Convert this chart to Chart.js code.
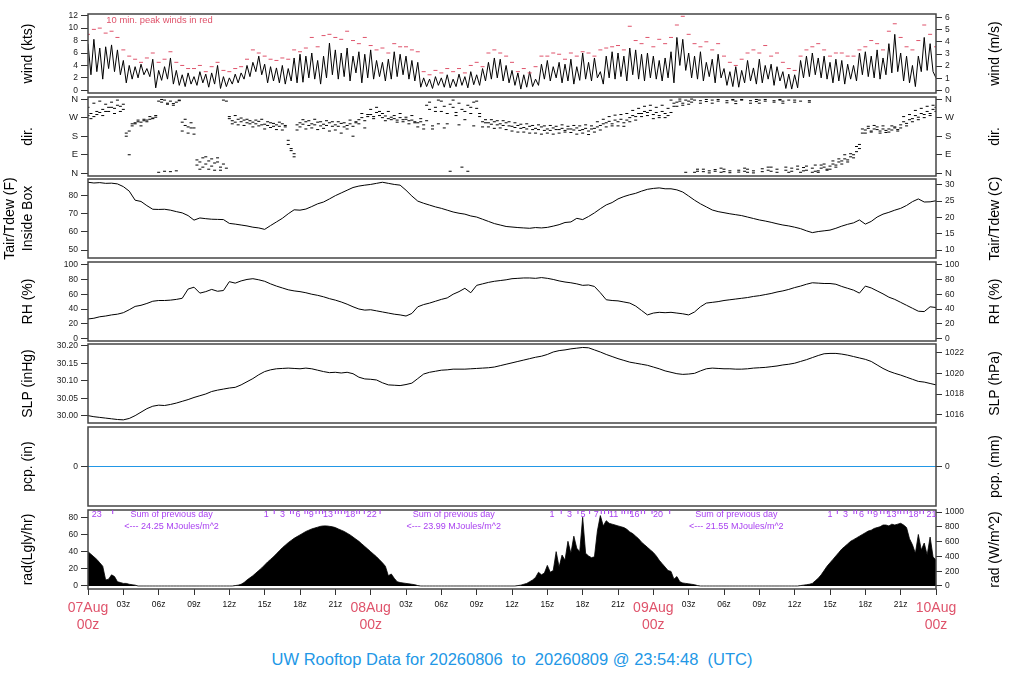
<!DOCTYPE html>
<html>
<head>
<meta charset="utf-8">
<title>UW Rooftop Data</title>
<script src="https://cdn.jsdelivr.net/npm/chart.js@4.4.1/dist/chart.umd.min.js"></script>
<style>
  body { margin: 0; background: #fff; }
  #page { position: relative; width: 1024px; height: 700px; overflow: hidden; font-family: "Liberation Sans", Arial, sans-serif; }
  .panel { position: absolute; left: 0; width: 1024px; }
  #title { position: absolute; left: 0; width: 1024px; top: 650px; text-align: center; font-size: 16.5px; color: #2297E6; white-space: pre; }
</style>
</head>
<body>
<div id="page">
  <div id="title">UW Rooftop Data for 20260806  to  20260809 @ 23:54:48  (UTC)</div>
</div>
<script>
const FONT = '"Liberation Sans", Arial, Helvetica, sans-serif';
const RED = '#DF536B';
const BLUE = '#2297E6';
const PURPLE = '#A83FF0';
Chart.defaults.font.family = FONT;

// time is in hours after 07Aug 00z
const xTickHours = [0, 3, 6, 9, 12, 15, 18, 21, 24, 27, 30, 33, 36, 39, 42, 45, 48, 51, 54, 57, 60, 63, 66, 69, 72];
const xTickLabels = [['07Aug', '00z'], '03z', '06z', '09z', '12z', '15z', '18z', '21z',
                     ['08Aug', '00z'], '03z', '06z', '09z', '12z', '15z', '18z', '21z',
                     ['09Aug', '00z'], '03z', '06z', '09z', '12z', '15z', '18z', '21z',
                     ['10Aug', '00z']];

// wind speed (kts), every 15 min
const windStep = 0.25;
const windKts = [
  7.5, 2.5, 8.2, 3.0,  6.8, 1.8, 7.0, 3.5,  7.3, 3.0, 6.5, 2.5,  4.8, 1.2, 4.0, 1.8,  3.8, 2.0, 4.2, 2.5,
  3.5, 2.2, 5.0, 0.4,  3.2, 1.6, 3.8, 1.8,  5.2, 1.0, 3.2, 0.8,  2.5, 0.6, 2.8, 1.0,  2.2, 0.8, 3.0, 1.2,
  2.6, 0.5, 2.8, 1.0,  4.0, 0.3, 2.2, 0.6,  2.0, 1.0, 2.6, 1.2,  2.8, 1.8, 4.0, 2.2,  4.5, 3.0, 5.5, 2.5,
  4.2, 1.2, 3.8, 1.5,  3.6, 1.2, 4.0, 1.0,  3.5, 1.5, 5.2, 1.2,  5.8, 1.3, 5.5, 2.0,  6.0, 1.8, 4.8, 1.0,
  5.5, 2.0, 7.6, 2.5,  6.5, 1.8, 6.0, 2.2,  6.8, 1.5, 5.5, 2.8,  6.2, 1.2, 5.8, 2.0,  6.5, 1.8, 4.8, 2.2,
  4.5, 1.5, 5.0, 1.8,  6.2, 2.2, 5.8, 2.5,  5.5, 1.8, 4.8, 1.5,  4.5, 0.5, 2.0, 0.6,  1.8, 0.3, 2.2, 0.8,
  2.0, 0.5, 2.5, 0.4,  1.8, 0.6, 2.6, 0.8,  2.2, 0.4, 3.0, 0.9,  2.5, 0.8, 3.5, 1.5,  4.5, 1.8, 5.2, 2.0,
  5.0, 1.5, 4.0, 1.2,  3.2, 0.8, 2.8, 0.2,  2.5, 0.5, 3.0, 0.6,  1.8, 0.8, 4.2, 1.8,  4.8, 1.5, 3.8, 2.0,
  4.5, 1.2, 4.2, 1.5,  5.0, 1.0, 3.8, 1.6,  6.0, 1.8, 4.5, 1.5,  5.2, 2.0, 3.0, 1.0,  5.5, 2.0, 6.2, 1.8,
  6.0, 2.2, 5.5, 1.5,  6.8, 2.5, 6.5, 1.8,  5.8, 1.5, 6.0, 2.0,  5.5, 1.8, 4.8, 1.5,  5.2, 2.0, 6.2, 1.2,
  8.5, 4.0, 8.2, 3.2,  6.0, 2.0, 5.5, 1.8,  6.2, 1.5, 4.5, 2.2,  5.0, 1.2, 5.8, 2.0,  3.5, 0.8, 3.0, 0.6,
  3.8, 0.5, 3.2, 1.2,  4.8, 1.5, 3.6, 1.0,  5.0, 1.2, 4.0, 1.8,  4.2, 0.8, 3.8, 1.5,  3.0, 0.3, 2.6, 0.2,
  2.5, 0.4, 4.8, 2.0,  5.5, 2.2, 6.0, 2.5,  5.2, 2.0, 5.5, 1.8,  4.5, 1.2, 5.0, 1.5,  4.8, 1.0, 4.2, 1.8,
  4.0, 1.5, 6.0, 2.5,  6.2, 2.2, 5.5, 2.0,  6.5, 1.8, 5.2, 2.5,  7.5, 2.8, 9.0, 3.0,  6.0, 1.5, 5.5, 1.2,
  4.0, 0.6, 5.5, 3.0,  8.5, 3.2, 7.5, 3.0,  2.0
];

// 10 min peak winds (kts), every 30 min
const peakStep = 0.5;
const peakKts = [
  9.0, 9.8, 10.0, 9.2, 9.5, 8.5, 6.5, 5.5, 5.0, 4.5,
  5.2, 6.0, 4.5, 5.0, 6.2, 4.5, 4.0, 3.5, 3.5, 4.0,
  3.0, 3.8, 4.5, 3.2, 3.0, 3.5, 3.8, 5.0, 6.5, 6.0,
  5.5, 5.0, 4.8, 5.2, 5.0, 6.5, 6.2, 6.8, 8.5, 7.0,
  8.8, 9.0, 8.5, 8.2, 9.5, 8.0, 7.5, 8.5, 7.2, 6.5,
  6.8, 6.0, 7.5, 7.0, 7.0, 6.5, 6.2, 3.0, 2.5, 3.2,
  2.8, 3.5, 3.0, 3.5, 2.8, 4.0, 4.5, 3.8, 6.0, 6.5,
  6.0, 5.5, 4.5, 3.0, 3.5, 2.8, 3.8, 5.5, 5.5, 6.0,
  5.8, 5.0, 6.0, 5.5, 6.2, 6.0, 5.5, 6.5, 6.8, 7.0,
  7.2, 6.5, 10.3, 8.0, 7.5, 8.5, 7.0, 8.2, 7.5, 8.5,
  10.5, 11.9, 9.0, 7.5, 7.0, 7.8, 6.5, 7.5, 5.5, 4.5,
  4.0, 5.0, 6.0, 6.5, 6.0, 7.2, 5.5, 6.0, 4.5, 3.5,
  3.2, 5.5, 6.5, 7.0, 7.5, 6.5, 5.5, 6.0, 6.0, 5.5,
  5.5, 6.5, 7.0, 8.0, 7.5, 6.5, 9.5, 10.7, 8.5, 7.0,
  6.5, 8.0, 10.5, 9.0, 7.0
];

// wind direction (deg), two samples every 15 min
const dirStep = 0.25;
const dirA = [
  280, 290, 275, 300,  295, 310, 300, 320,  320, 315, 330, 325,  310, 195, 205, 240,  245, 250, 248, 255,
  258, 262, 268, 272,  350, 345, 355, 340,  350, 338, 345, 352,  248, 232, 225, 245,  220, 40, 55, 30,
  45, 60, 35, 50,  55, 30, 45, 350,  265, 255, 248, 262,  250, 258, 245, 255,  248, 240, 252, 235,
  238, 232, 245, 228,  235, 228, 240, 225,  140, 110, 95, 235,  245, 238, 250, 232,  240, 235, 248, 230,
  238, 232, 245, 228,  235, 228, 242, 225,  232, 240, 228, 245,  260, 270, 255, 275,  285, 275, 295, 280,
  270, 278, 265, 272,  265, 258, 270, 260,  262, 255, 258, 250,  245, 250, 235, 255,  310, 230, 320, 240,
  300, 325, 240, 335,  320, 295, 340, 310,  300, 330, 290, 345,  315, 290, 250, 245,  245, 238, 250, 235,
  240, 232, 245, 230,  228, 222, 232, 218,  222, 215, 228, 212,  218, 212, 225, 208,  215, 208, 220, 212,
  212, 218, 208, 215,  215, 210, 220, 208,  212, 218, 205, 215,  218, 225, 232, 240,  245, 252, 240, 258,
  250, 262, 245, 258,  270, 280, 275, 290,  290, 300, 295, 305,  285, 295, 280, 300,  290, 280, 295, 340,
  345, 350, 340, 355,  350, 345, 355, 10,  352, 8, 348, 12,  355, 10, 350, 5,  8, 352, 12, 355,
  350, 6, 355, 10,  5, 352, 12, 348,  355, 8, 350, 15,  10, 352, 20, 355,  350, 15, 355, 10,
  355, 20, 350, 12,  15, 352, 25, 10,  12, 25, 30, 20,  35, 45, 40, 55,  60, 70, 65, 80,
  90, 105, 120, 215,  210, 218, 205, 215,  212, 205, 215, 208,  215, 210, 220, 212,  235, 250, 242, 260,
  265, 280, 272, 290,  285, 300, 290, 310,  300
];
const dirB = [
  320, 265, 340, 285,  350, 280, 335, 300,  345, 290, 355, 300,  335, 180, 90, 230,  240, 258, 230, 262,
  250, 275, 265, 280,  5, 358, 10, 335,  8, 330, 12, 355,  205, 262, 195, 220,  190, 65, 20, 75,
  80, 20, 70, 15,  75, 15, 355, 25,  275, 240, 280, 235,  268, 232, 262, 240,  225, 258, 230, 262,
  215, 250, 222, 242,  212, 248, 210, 232,  160, 120, 80, 210,  225, 260, 215, 255,  220, 262, 212, 250,
  218, 255, 205, 250,  210, 250, 195, 245,  215, 258, 180, 250,  240, 290, 220, 285,  310, 265, 320, 300,
  290, 255, 300, 260,  280, 248, 290, 250,  272, 240, 280, 245,  225, 265, 215, 330,  345, 215, 300, 355,
  350, 220, 290, 10,  355, 280, 235, 30,  260, 10, 320, 230,  350, 275, 225, 260,  225, 260, 218, 255,
  220, 255, 212, 250,  205, 245, 200, 238,  200, 240, 195, 232,  195, 235, 190, 230,  195, 232, 190, 228,
  195, 235, 200, 228,  198, 232, 190, 230,  195, 235, 188, 230,  200, 250, 210, 262,  225, 275, 230, 282,
  230, 285, 228, 290,  250, 305, 258, 315,  275, 325, 280, 330,  265, 320, 270, 330,  270, 315, 355, 325,
  325, 360, 330, 5,  335, 360, 5, 20,  340, 20, 358, 2,  340, 18, 358, 25,  20, 342, 3, 358,
  338, 15, 358, 25,  20, 340, 2, 358,  340, 22, 358, 30,  30, 345, 5, 358,  340, 30, 5, 25,
  345, 35, 5, 28,  35, 345, 5, 40,  5, 40, 45, 15,  20, 60, 30, 70,  45, 90, 55, 95,
  75, 130, 140, 195,  195, 228, 200, 232,  225, 195, 230, 198,  200, 230, 225, 205,  220, 275, 230, 285,
  250, 305, 260, 315,  270, 325, 280, 330,  320
];
const dirTicks = [0, 90, 180, 270, 360];
const dirTickLabels = ['N', 'E', 'S', 'W', 'N'];

// air temperature inside box (F), every 30 min
const tempStep = 0.5;
const tempF = [
  87.4, 87.0, 87.2, 86.8, 86.9, 86.5, 85.0, 82.5, 77.5, 76.8,
  74.5, 72.5, 72.4, 72.5, 72.0, 71.2, 70.5, 69.0, 66.5, 67.7,
  67.3, 67.0, 66.9, 66.8, 64.7, 64.3, 63.8, 63.3, 62.6, 62.2,
  61.4, 63.5, 65.5, 67.5, 70.0, 72.2, 72.0, 72.6, 74.0, 75.5,
  76.5, 78.2, 80.0, 81.5, 83.0, 84.5, 85.3, 85.8, 86.2, 86.8,
  87.4, 86.8, 86.2, 85.8, 83.0, 79.8, 77.0, 75.8, 74.8, 73.8,
  73.0, 72.0, 71.0, 70.3, 69.8, 68.8, 68.2, 67.0, 65.8, 64.6,
  63.8, 63.0, 62.7, 62.4, 62.2, 62.0, 62.4, 62.2, 62.5, 63.2,
  64.0, 65.2, 65.5, 67.5, 66.8, 68.5, 70.5, 72.8, 74.9, 76.2,
  78.2, 79.5, 80.5, 81.3, 82.5, 83.5, 84.0, 84.3, 83.8, 83.8,
  83.2, 82.0, 79.8, 77.5, 75.5, 73.8, 72.1, 71.2, 70.6, 70.0,
  69.5, 69.0, 68.2, 67.4, 66.6, 66.0, 65.3, 64.5, 63.8, 63.3,
  62.6, 61.8, 60.6, 59.6, 60.2, 60.6, 61.0, 62.0, 63.2, 64.2,
  65.0, 66.6, 64.3, 65.8, 68.2, 69.8, 70.8, 72.0, 73.0, 74.6,
  76.7, 78.2, 76.5, 76.6, 77.2
];

// relative humidity (%), every 30 min
const rhStep = 0.5;
const rhPct = [
  26.5, 27.5, 29.5, 30.5, 32.0, 33.0, 35.0, 39.0, 43.5, 45.0,
  47.5, 50.5, 51.5, 51.5, 52.0, 53.0, 54.5, 67.0, 69.5, 61.5,
  63.5, 66.5, 64.0, 65.0, 77.0, 75.0, 78.0, 80.0, 81.0, 79.5,
  77.5, 74.0, 71.0, 68.5, 66.0, 64.5, 63.5, 62.0, 60.0, 58.5,
  56.5, 54.0, 52.0, 49.5, 46.5, 43.0, 40.0, 38.5, 39.0, 37.5,
  36.0, 34.5, 33.0, 32.0, 30.5, 34.0, 43.0, 46.0, 48.0, 50.5,
  53.0, 55.0, 60.0, 63.5, 68.0, 62.0, 72.0, 74.0, 76.0, 77.5,
  78.5, 79.5, 81.0, 81.5, 82.0, 82.0, 81.5, 82.5, 81.5, 80.0,
  78.0, 76.5, 75.5, 74.0, 72.0, 72.5, 70.5, 62.0, 52.5, 51.5,
  51.0, 49.5, 48.0, 44.0, 38.0, 32.0, 34.5, 35.5, 35.0, 35.5,
  34.5, 33.5, 32.0, 36.0, 43.0, 48.0, 49.0, 50.0, 51.5, 52.5,
  53.5, 54.5, 55.5, 57.0, 58.0, 59.5, 61.0, 63.0, 64.5, 66.5,
  69.0, 71.0, 73.5, 75.5, 75.0, 74.5, 74.5, 73.5, 70.5, 68.0,
  65.5, 61.5, 71.0, 68.5, 64.5, 60.5, 56.0, 53.0, 49.0, 45.0,
  41.0, 37.0, 36.5, 43.0, 42.0
];

// sea level pressure (inHg), every 30 min
const slpStep = 0.5;
const slpInHg = [
  30.000, 29.997, 29.995, 29.993, 29.991, 29.989, 29.988, 29.992, 30.000, 30.010,
  30.020, 30.027, 30.030, 30.029, 30.032, 30.036, 30.041, 30.046, 30.052, 30.057,
  30.062, 30.069, 30.073, 30.076, 30.079, 30.081, 30.088, 30.097, 30.106, 30.117,
  30.126, 30.131, 30.134, 30.135, 30.136, 30.135, 30.134, 30.136, 30.134, 30.130,
  30.126, 30.123, 30.124, 30.122, 30.124, 30.120, 30.110, 30.105, 30.104, 30.102,
  30.094, 30.088, 30.087, 30.086, 30.089, 30.093, 30.106, 30.119, 30.124, 30.127,
  30.130, 30.131, 30.133, 30.133, 30.133, 30.134, 30.135, 30.136, 30.137, 30.139,
  30.143, 30.147, 30.151, 30.155, 30.159, 30.163, 30.167, 30.170, 30.175, 30.182,
  30.186, 30.188, 30.191, 30.193, 30.195, 30.194, 30.188, 30.182, 30.175, 30.169,
  30.163, 30.158, 30.153, 30.150, 30.147, 30.144, 30.139, 30.134, 30.128, 30.124,
  30.120, 30.118, 30.119, 30.121, 30.128, 30.134, 30.136, 30.135, 30.134, 30.134,
  30.133, 30.133, 30.134, 30.136, 30.137, 30.138, 30.140, 30.142, 30.145, 30.147,
  30.150, 30.155, 30.160, 30.166, 30.172, 30.177, 30.178, 30.178, 30.176, 30.173,
  30.169, 30.165, 30.161, 30.155, 30.145, 30.135, 30.127, 30.121, 30.116, 30.110,
  30.104, 30.098, 30.096, 30.092, 30.088
];

// precipitation (in)
const pcpHours = [0, 72];
const pcpIn = [0, 0];

// solar radiation (Langley/hr), every 15 min
const radStep = 0.25;
const radLgly = [
  40, 37, 34, 31,  27, 23, 7, 8,  13, 11, 5, 4,  3, 3, 2, 1.5,  1, 0, 0, 0,
  0, 0, 0, 0,  0, 0, 0, 0,  0, 0, 0, 0,  0, 0, 0, 0,  0, 0, 0, 0,
  0, 0, 0, 0,  0, 0, 0, 0,  0, 0, 0.5, 1,  2, 4, 7, 9.5,  12, 15, 18, 21,
  24.5, 28, 31, 34,  37.5, 41, 44.5, 47.5,  50.5, 53, 55.5, 57.5,  59.5, 61.5, 63.5, 65,  66.5, 67.5, 68.5, 69.5,
  70, 70, 69.5, 69,  68, 66.5, 65, 63.5,  61.5, 59.5, 57, 54.5,  52, 49, 46, 43,  40, 37, 34, 30.5,
  27, 23, 12, 14,  9, 5, 4, 3.5,  3, 2.5, 2, 1.5,  0.5, 0, 0, 0,  0, 0, 0, 0,
  0, 0, 0, 0,  0, 0, 0, 0,  0, 0, 0, 0,  0, 0, 0, 0,  0, 0, 0, 0,
  0, 0, 0, 0,  0, 0, 0.5, 1,  2, 3, 5, 7,  10, 16, 13, 15,  24, 16, 18, 40,
  22, 36, 30, 52,  38, 58, 44, 40,  80, 38, 35, 33,  34, 64, 82, 70,  76, 73, 72, 71,
  70, 69, 68, 66,  63, 61, 58, 55,  51, 48, 45, 42,  39, 35, 30, 26,  22, 18, 17, 8,
  11, 5, 3.5, 3,  2.5, 2, 1.5, 0.5,  0, 0, 0, 0,  0, 0, 0, 0,  0, 0, 0, 0,
  0, 0, 0, 0,  0, 0, 0, 0,  0, 0, 0, 0,  0, 0, 0, 0,  0, 0, 0, 0,
  0, 0, 0.5, 1,  1.5, 2, 3, 6,  9, 13, 18, 23,  27, 31, 35, 39,  43, 46, 49, 52,
  54, 56, 58, 60,  62, 64, 65, 67,  68, 69, 71, 71,  70, 72, 71, 72,  73, 71, 68, 55,
  48, 38, 60, 42,  50, 36, 57, 34,  30
];

// cumulative MJ/m^2 marks along the top of the radiation panel
const radMarkHours = [
  0.74, 2.10,
  15.13, 15.81, 16.52, 17.20, 17.43, 17.83, 18.42, 18.65, 18.96, 19.36, 19.64, 19.92, 20.38,
  21.00, 21.25, 21.51, 21.80, 22.27, 22.82, 23.04, 23.46, 24.09, 24.80,
  39.39, 40.18, 40.89, 41.60, 42.03, 42.59, 43.16, 43.58, 43.86, 44.20, 44.63,
  45.34, 45.56, 45.85, 46.07, 46.41, 46.98, 47.26, 47.89, 48.40, 49.39,
  62.99, 63.62, 64.32, 65.03, 65.26, 65.68, 66.25, 66.51, 66.87, 67.30, 67.58, 67.87, 68.23,
  68.77, 69.00, 69.28, 69.57, 70.08, 70.64, 70.93, 71.61
];
const radMarkLabels = [
  '23', '',
  '1', '', '3', '', '', '6', '', '', '9', '', '', '', '13',
  '', '', '', '', '18', '', '', '', '22', '',
  '1', '', '3', '', '5', '', '7', '', '', '', '11',
  '', '', '', '', '16', '', '', '', '20', '',
  '1', '', '3', '', '', '6', '', '', '9', '', '', '', '13',
  '', '', '', '', '18', '', '', '21'
];
const radSumHours = [7.1, 31.05, 55.05];
const radSumValues = ['24.25', '23.99', '21.55'];

// layout
const PANEL_TOPS = [14, 97, 179, 262, 344, 427, 510];
const PANEL_H = 79;
const PAD = 10;
const X_AXIS_H = 50;
const RIGHT_TITLE_X = 995;

function series(values, step) {
  return values.map((v, i) => ({ x: i * step, y: v }));
}

function lineDs(points, color) {
  return { data: points, borderColor: color, borderWidth: 1, pointRadius: 0, tension: 0, fill: false };
}

function dashDs(points, color, r) {
  return { data: points, showLine: false, pointStyle: 'line', pointRadius: r,
           pointBorderColor: color, pointBorderWidth: 1, borderColor: color };
}

const framePlugin = {
  id: 'frame',
  afterDatasetsDraw(chart) {
    const { ctx, chartArea: a } = chart;
    ctx.save();
    ctx.strokeStyle = '#444';
    ctx.lineWidth = 1.5;
    ctx.strokeRect(a.left, a.top, a.right - a.left, a.bottom - a.top);
    ctx.restore();
  }
};

function sideTitle(text) {
  return {
    id: 'sideTitle',
    afterDraw(chart) {
      const { ctx, chartArea: a } = chart;
      ctx.save();
      ctx.translate(RIGHT_TITLE_X, (a.top + a.bottom) / 2);
      ctx.rotate(-Math.PI / 2);
      ctx.font = '14px ' + FONT;
      ctx.fillStyle = '#000';
      ctx.textAlign = 'center';
      ctx.textBaseline = 'middle';
      ctx.fillText(text, 0, 0);
      ctx.restore();
    }
  };
}

function notes(texts, marks) {
  return {
    id: 'notes',
    afterDatasetsDraw(chart) {
      const { ctx, chartArea: a } = chart;
      const xs = chart.scales.x, ys = chart.scales.y;
      ctx.save();
      ctx.textBaseline = 'middle';
      texts.forEach(t => {
        ctx.font = t.size + 'px ' + FONT;
        ctx.fillStyle = t.color;
        ctx.textAlign = t.align || 'center';
        ctx.fillText(t.text, xs.getPixelForValue(t.x), ys.getPixelForValue(t.y));
      });
      if (marks) {
        ctx.strokeStyle = marks.color;
        ctx.fillStyle = marks.color;
        ctx.lineWidth = 1;
        ctx.font = marks.size + 'px ' + FONT;
        ctx.textAlign = 'center';
        marks.hours.forEach((h, i) => {
          const px = xs.getPixelForValue(h);
          if (marks.labels[i]) {
            ctx.fillText(marks.labels[i], px, ys.getPixelForValue(marks.labelValue));
          } else {
            ctx.beginPath();
            ctx.moveTo(px, a.top);
            ctx.lineTo(px, a.top + 4);
            ctx.stroke();
          }
        });
      }
      ctx.restore();
    }
  };
}

function yAxis(pos, range, ticks, labels, title, titlePad, fontSize) {
  return {
    type: 'linear', position: pos, min: range[0], max: range[1],
    afterBuildTicks: s => { s.ticks = ticks.map(v => ({ value: v })); },
    afterFit: s => { s.width = 88; },
    border: { display: false },
    grid: { drawOnChartArea: false, tickLength: pos === 'left' ? 7 : 6, color: '#333' },
    ticks: { autoSkip: false, padding: 3, color: '#222', font: { size: fontSize || 8.5 },
             callback: (v, i) => labels[i] },
    title: { display: pos === 'left', text: title, color: '#000', font: { size: 14, lineHeight: 1.25 },
             padding: { top: titlePad, bottom: 0 } }
  };
}

function xAxis(show) {
  const isDay = i => Array.isArray(xTickLabels[i]);
  return {
    type: 'linear', min: 0, max: 72, display: show,
    afterBuildTicks: s => { s.ticks = xTickHours.map(v => ({ value: v })); },
    afterFit: s => { if (show) s.height = X_AXIS_H; },
    border: { display: false },
    grid: { drawOnChartArea: false, tickLength: 6, color: '#333' },
    ticks: {
      autoSkip: false, maxRotation: 0, padding: 5,
      callback: (v, i) => xTickLabels[i],
      font: c => isDay(c.index) ? { family: FONT, size: 14, lineHeight: 1.2 }
                                : { family: FONT, size: 8.5, lineHeight: 1.2 },
      color: c => isDay(c.index) ? RED : '#111'
    }
  };
}

function addPanel(i, cfg) {
  const last = i === PANEL_TOPS.length - 1;
  const div = document.createElement('div');
  div.className = 'panel';
  div.style.top = (PANEL_TOPS[i] - PAD) + 'px';
  div.style.height = (PAD + PANEL_H + (last ? X_AXIS_H : PAD)) + 'px';
  const canvas = document.createElement('canvas');
  div.appendChild(canvas);
  document.getElementById('page').appendChild(div);

  const plugins = [framePlugin, sideTitle(cfg.rightTitle)];
  if (cfg.notes) plugins.push(cfg.notes);

  return new Chart(canvas, {
    type: 'line',
    data: { datasets: cfg.datasets },
    options: {
      responsive: true, maintainAspectRatio: false, animation: false, events: [],
      layout: { padding: { top: PAD, bottom: last ? 0 : PAD, left: 0, right: 0 } },
      plugins: { legend: { display: false }, tooltip: { enabled: false } },
      scales: {
        x: xAxis(last),
        y: cfg.left,
        y2: cfg.right
      }
    },
    plugins: plugins
  });
}

const str = v => String(v);

// wind
const ktsTicks = [0, 2, 4, 6, 8, 10, 12];
const msTicks = [0, 1, 2, 3, 4, 5, 6];
addPanel(0, {
  datasets: [dashDs(series(peakKts, peakStep), RED, 2), lineDs(series(windKts, windStep), '#000')],
  left: yAxis('left', [-0.43, 12.27], ktsTicks, ktsTicks.map(str), 'wind (kts)', 19.6),
  right: yAxis('right', [-0.22, 6.31], msTicks, msTicks.map(str)),
  rightTitle: 'wind (m/s)',
  notes: notes([{ text: '10 min. peak winds in red', x: 1.56, y: 11.3, size: 9.4, color: RED, align: 'left' }])
});

// direction
addPanel(1, {
  datasets: [dashDs(series(dirA, dirStep), '#000', 1.5), dashDs(series(dirB, dirStep), '#000', 1.5)],
  left: yAxis('left', [-13, 370], dirTicks, dirTickLabels, 'dir.', 19.6, 9.5),
  right: yAxis('right', [-13, 370], dirTicks, dirTickLabels, '', 0, 9.5),
  rightTitle: 'dir.'
});

// temperature
const fTicks = [50, 60, 70, 80];
const cTicks = [10, 15, 20, 25, 30];
addPanel(2, {
  datasets: [lineDs(series(tempF, tempStep), '#000')],
  left: yAxis('left', [45.6, 89.2], fTicks, fTicks.map(str), ['Tair/Tdew (F)', 'Inside Box'], 1.5),
  right: yAxis('right', [7.56, 31.78], cTicks, cTicks.map(str)),
  rightTitle: 'Tair/Tdew (C)'
});

// relative humidity
const rhTicks = [0, 20, 40, 60, 80, 100];
addPanel(3, {
  datasets: [lineDs(series(rhPct, rhStep), '#000')],
  left: yAxis('left', [-3.3, 103.6], rhTicks, rhTicks.map(str), 'RH (%)', 19.6),
  right: yAxis('right', [-3.3, 103.6], rhTicks, rhTicks.map(str)),
  rightTitle: 'RH (%)'
});

// pressure
const inHgTicks = [30.00, 30.05, 30.10, 30.15, 30.20];
const hPaTicks = [1016, 1018, 1020, 1022];
addPanel(4, {
  datasets: [lineDs(series(slpInHg, slpStep), '#000')],
  left: yAxis('left', [29.979, 30.2049], inHgTicks, inHgTicks.map(v => v.toFixed(2)), 'SLP (inHg)', 19.6),
  right: yAxis('right', [1015.19, 1022.85], hPaTicks, hPaTicks.map(str)),
  rightTitle: 'SLP (hPa)'
});

// precipitation
addPanel(5, {
  datasets: [lineDs(pcpHours.map((h, i) => ({ x: h, y: pcpIn[i] })), BLUE)],
  left: yAxis('left', [-1, 1], [0], ['0'], 'pcp. (in)', 19.6),
  right: yAxis('right', [-25.4, 25.4], [0], ['0']),
  rightTitle: 'pcp. (mm)'
});

// radiation
const lglyTicks = [0, 20, 40, 60, 80];
const wTicks = [0, 200, 400, 600, 800, 1000];
const radTexts = [];
radSumHours.forEach((h, i) => {
  radTexts.push({ text: 'Sum of previous day', x: h, y: 83.5, size: 9, color: PURPLE });
  radTexts.push({ text: '<--- ' + radSumValues[i] + ' MJoules/m^2', x: h, y: 69, size: 9, color: PURPLE });
});
addPanel(6, {
  datasets: [{ data: series(radLgly, radStep), borderColor: '#000', backgroundColor: '#000',
               borderWidth: 0.8, pointRadius: 0, tension: 0, fill: 'origin' }],
  left: yAxis('left', [-3.5, 88.5], lglyTicks, lglyTicks.map(str), 'rad(Lgly/hr)', 19.6),
  right: yAxis('right', [-40.7, 1029], wTicks, wTicks.map(str)),
  rightTitle: 'rad (W/m^2)',
  notes: notes(radTexts, { hours: radMarkHours, labels: radMarkLabels, labelValue: 83.5, color: PURPLE, size: 9 })
});
</script>
</body>
</html>
